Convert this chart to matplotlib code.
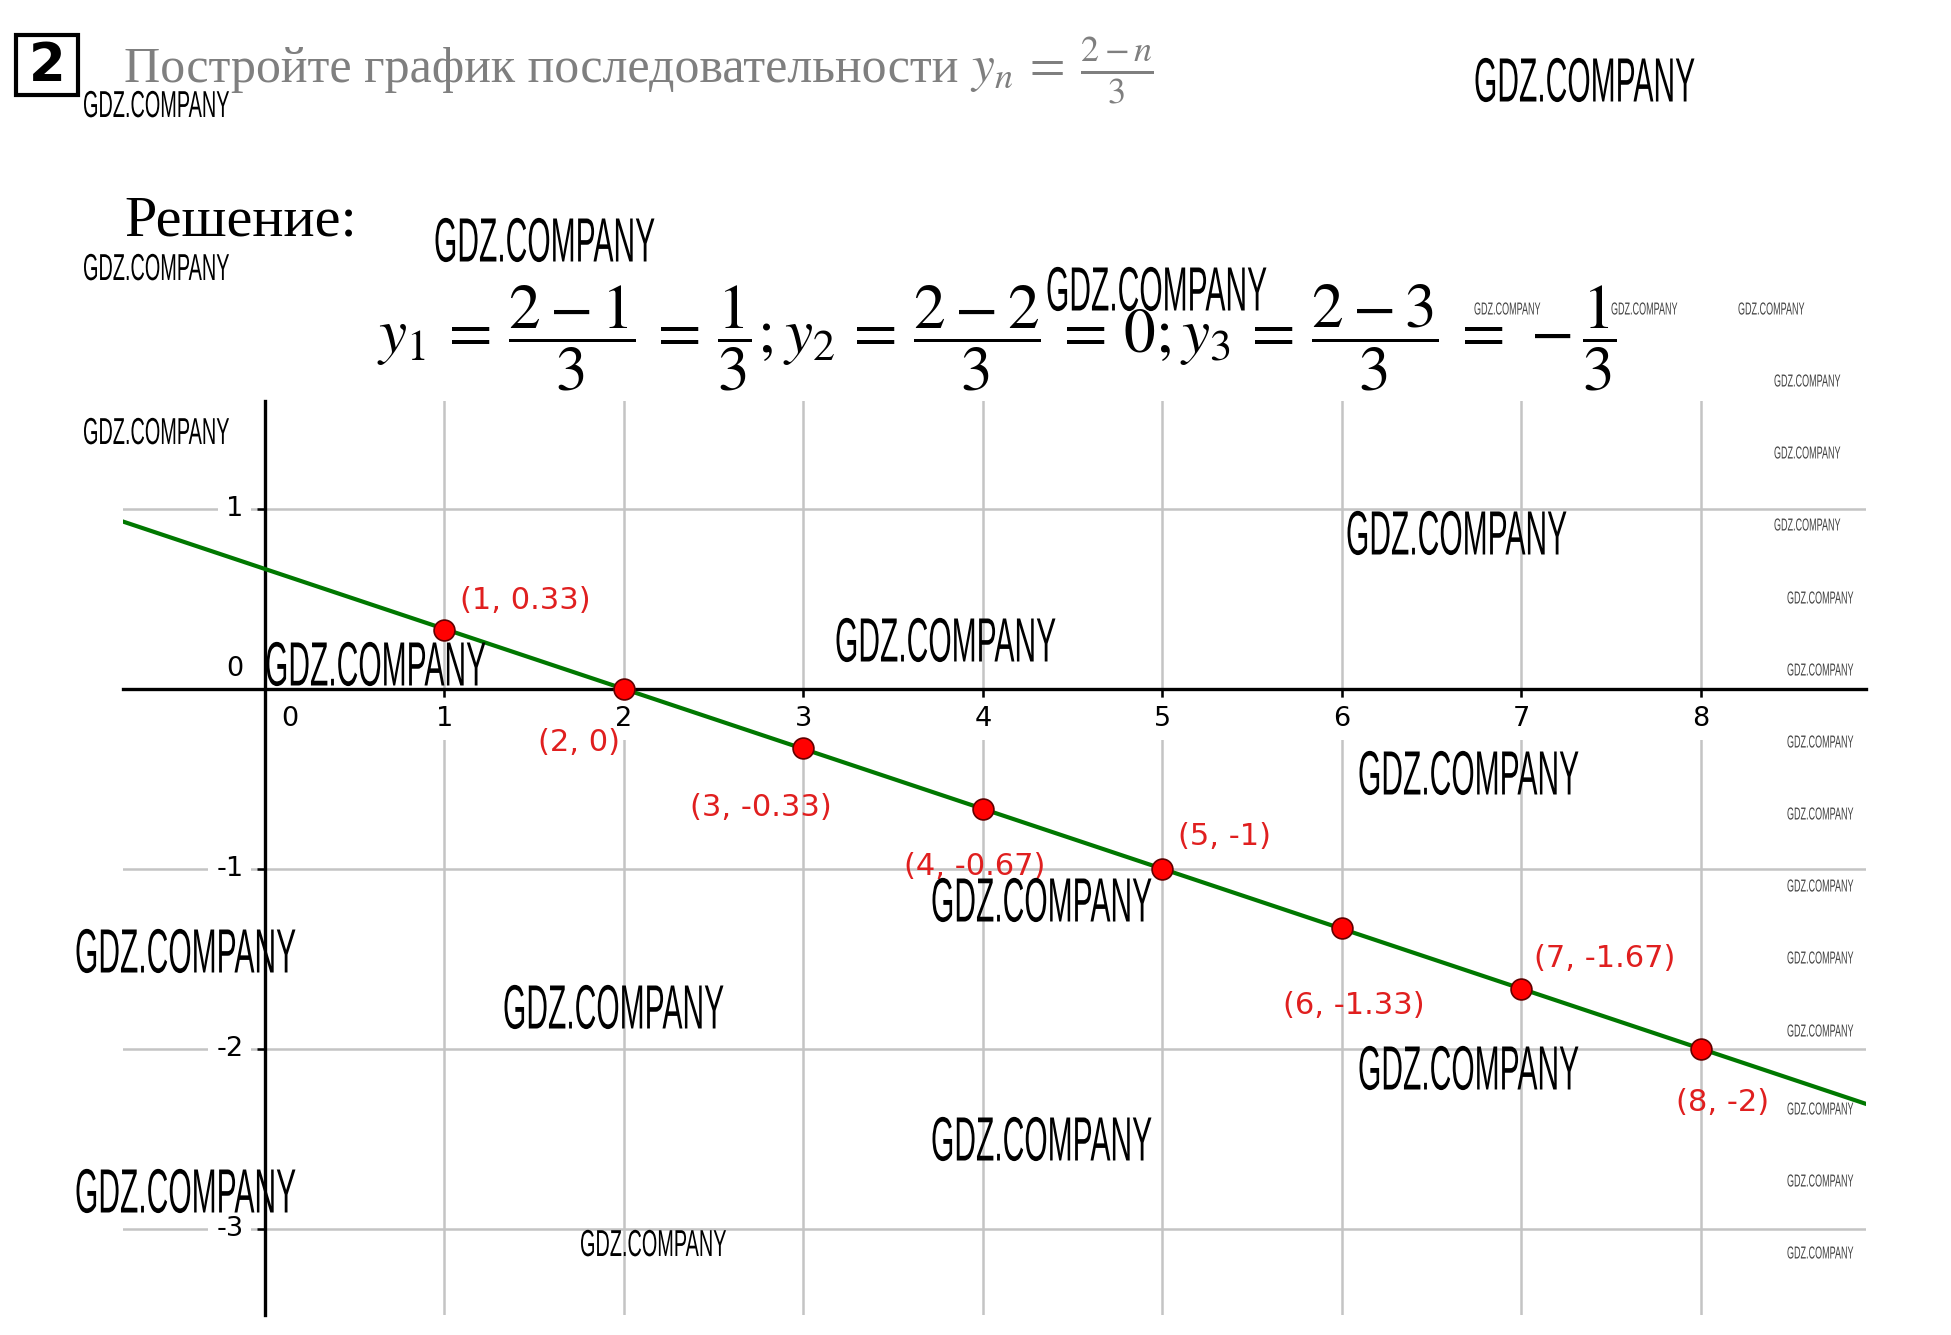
import matplotlib
matplotlib.use("Agg")
import matplotlib.pyplot as plt
from matplotlib import patheffects
from matplotlib.patches import Rectangle
from matplotlib.transforms import Affine2D

plt.rcParams['mathtext.fontset'] = 'stix'

# sequence y_n = (2 - n) / 3, values as printed on the chart
n_values = [1, 2, 3, 4, 5, 6, 7, 8]
y_values = [0.33, 0, -0.33, -0.67, -1, -1.33, -1.67, -2]
x_ticks = [0, 1, 2, 3, 4, 5, 6, 7, 8]
y_ticks = [1, 0, -1, -2, -3]

# where each point label sits relative to its point (data units)
label_dx = [0.09, -0.48, -0.63, -0.44, 0.09, -0.33, 0.07, -0.14]
label_dy = [0.16, -0.30, -0.33, -0.32, 0.18, -0.43, 0.17, -0.30]

# watermark spots (pixels: left x, centre y)
wm_big = [(1474, 85), (434, 245), (1046, 294), (1346, 538), (835, 645),
          (265, 669), (1358, 778), (931, 905), (75, 956), (503, 1012),
          (1358, 1073), (931, 1144), (75, 1196)]
wm_mid = [(83, 107), (83, 270), (83, 434), (580, 1246)]
wm_small = [(1474, 310), (1611, 310), (1738, 310), (1774, 382), (1774, 454),
            (1774, 526), (1787, 599), (1787, 671), (1787, 743), (1787, 815),
            (1787, 887), (1787, 959), (1787, 1032), (1787, 1110),
            (1787, 1182), (1787, 1254)]

W, H = 1951, 1335


def fx(px):
    return px / W


def fy(py):
    return 1 - py / H


class Squeeze(patheffects.AbstractPathEffect):
    # squash text horizontally around its left edge (condensed look)
    def __init__(self, sx=0.5):
        super().__init__()
        self.sx = sx

    def draw_path(self, renderer, gc, tpath, affine, rgbFace=None):
        tx = affine.get_matrix()[0, 2]
        sq = Affine2D().translate(-tx, 0).scale(self.sx, 1).translate(tx, 0)
        renderer.draw_path(gc, tpath, affine + sq, rgbFace)


fig = plt.figure(figsize=(W / 100, H / 100), dpi=100)

ax = fig.add_axes([fx(123), fy(1315), fx(1866) - fx(123), fy(401) - fy(1315)])
ax.set_xlim(-0.79, 8.92)
ax.set_ylim(-3.48, 1.6)
for s in ['top', 'right']:
    ax.spines[s].set_visible(False)
ax.spines['left'].set_position(('data', 0))
ax.spines['bottom'].set_position(('data', 0))
ax.spines['left'].set_linewidth(2.4)
ax.spines['bottom'].set_linewidth(2.4)
ax.set_xticks([t for t in x_ticks if t != 0])
ax.set_yticks([t for t in y_ticks if t != 0])
ax.tick_params(direction='out', length=6, width=1.8, labelbottom=False, labelleft=False)
ax.grid(True, color='#c4c4c4', lw=1.8)
ax.set_axisbelow(True)

# tick labels with white boxes that cut the grid lines (spines stay on top)
box = dict(fc='white', ec='none', boxstyle='square,pad=0.3')
for t in x_ticks:
    ax.text(t + (0.14 if t == 0 else 0), -0.166, str(t), ha='center', va='center',
            fontsize=19.5, bbox=box, zorder=2.2)
for t in y_ticks:
    ax.text(-0.12, t + (0.11 if t == 0 else 0), str(t), ha='right', va='center',
            fontsize=19.5, bbox=box, zorder=2.2)

ax.axline((n_values[1], y_values[1]), (n_values[-1], y_values[-1]),
          color='#007800', lw=3, zorder=3)
ax.plot(n_values, y_values, 'o', ls='none', ms=15, mfc='#ff0000',
        mec='#600000', mew=1.2, zorder=4)
for n, y, dx, dy in zip(n_values, y_values, label_dx, label_dy):
    ax.text(n + dx, y + dy, f'({n}, {y:g})', color='#e01f1f', fontsize=22,
            ha='left', va='center', zorder=5)

# header
fig.patches.append(Rectangle((fx(16), fy(95)), fx(78) - fx(16), fy(35) - fy(95),
                             transform=fig.transFigure, fill=False, lw=3, ec='black'))
fig.text(fx(47), fy(66), '2', fontsize=38, fontweight='bold', ha='center', va='center')
fig.text(fx(124), fy(82), 'Постройте график последовательности', fontsize=36,
         family='Liberation Serif', color='#7f7f7f', va='baseline')
fig.text(fx(970), fy(82), r'$y_n \:=\: \frac{2-n}{3}$', fontsize=37,
         color='#7f7f7f', va='baseline')
fig.text(fx(124), fy(236), 'Решение:', fontsize=42, family='Liberation Serif',
         va='baseline')
fig.text(fx(377), fy(338),
         r'$y_1 \,=\, \dfrac{2-1}{3} \,=\, \dfrac{1}{3};y_2 \,=\, \dfrac{2-2}{3} \,=\, 0;'
         r'y_3 \,=\, \dfrac{2-3}{3} \,=\, -\dfrac{1}{3}$',
         fontsize=45.5, ha='left', va='center')

# watermarks
for spots, size, sx, col in [(wm_big, 45, 0.48, 'black'),
                             (wm_mid, 27, 0.53, 'black'),
                             (wm_small, 12.5, 0.52, '#444444')]:
    for px, py in spots:
        fig.text(fx(px), fy(py), 'GDZ.COMPANY', fontsize=size, family='Liberation Sans',
                 color=col, ha='left', va='center', path_effects=[Squeeze(sx)])

fig.savefig('out.png', dpi=100)
